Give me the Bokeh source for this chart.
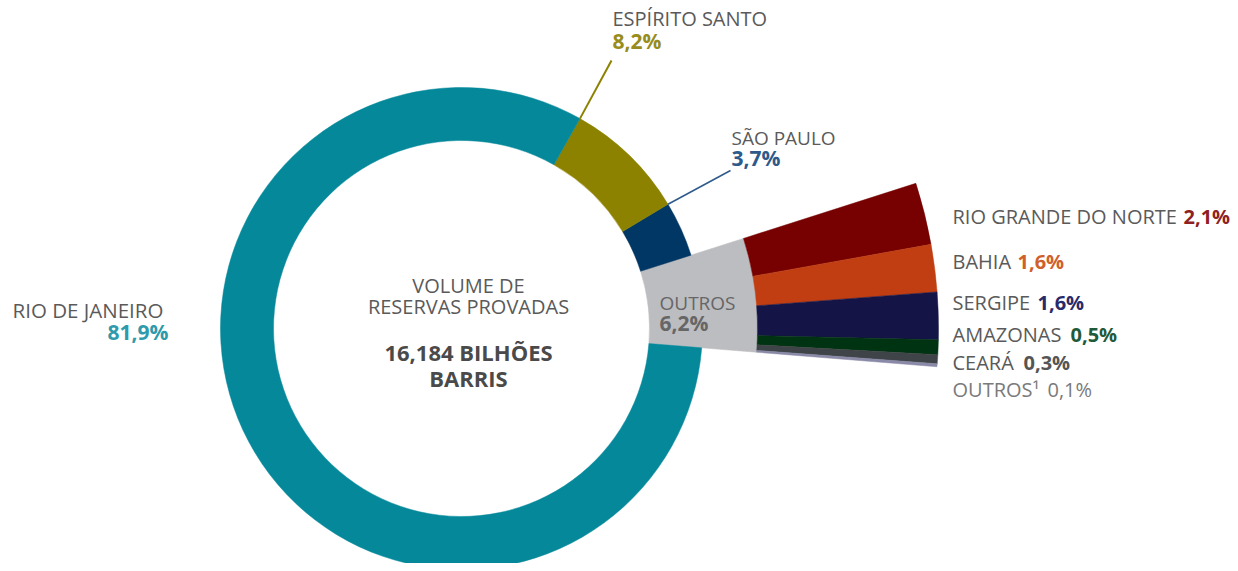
import numpy as np
from bokeh.plotting import figure
from bokeh.models import Range1d
from bokeh.core.properties import value
from bokeh.embed import file_html
from bokeh.resources import INLINE

# ---- data ----
main_names = ["RIO DE JANEIRO", "ESPÍRITO SANTO", "SÃO PAULO", "OUTROS"]
main_shares = [81.9, 8.2, 3.7, 6.2]
main_pct = ["81,9%", "8,2%", "3,7%", "6,2%"]
main_colors = ["#05889A", "#8C8200", "#003764", "#BCBDC1"]
main_pct_colors = ["#2E9AAB", "#978C1C", "#2D5A8A", "#666666"]

sub_names = ["RIO GRANDE DO NORTE", "BAHIA", "SERGIPE", "AMAZONAS", "CEARÁ", "OUTROS¹"]
sub_shares = [2.1, 1.6, 1.6, 0.5, 0.3, 0.1]
sub_pct = ["2,1%", "1,6%", "1,6%", "0,5%", "0,3%", "0,1%"]
sub_colors = ["#770000", "#C03E12", "#141446", "#003312", "#3E4447", "#8A8AA8"]
sub_pct_colors = ["#8E1F22", "#D0602A", "#2A2A6A", "#1F5A3A", "#555555", "#7A7A7A"]

center_lines = ["VOLUME DE", "RESERVAS PROVADAS", "16,184 BILHÕES", "BARRIS"]

# ---- layout helpers (page px -> data) ----
W, H = 1230, 563
def Y(yp):
    return 571 - yp

cx, cy = 461, Y(328)
r_in, r_out = 188, 241
r_ext, r_fan = 296, 477
start_deg = -4.6
deg_per = 3.6

p = figure(width=W, height=H, output_backend="svg", toolbar_location=None,
           x_range=Range1d(0, 1230), y_range=Range1d(8, 571), min_border=0,
           match_aspect=False)
p.axis.visible = False
p.grid.visible = False
p.outline_line_color = None
p.background_fill_color = "white"
p.border_fill_color = "white"

# main donut: counter-clockwise order OUTROS, SP, ES, RJ
order = [3, 2, 1, 0]
angles = {}
a = start_deg
for i in order:
    a0 = a
    a1 = a + main_shares[i] * deg_per
    angles[i] = (a0, a1)
    a = a1
for i in order:
    a0, a1 = angles[i]
    ro = r_ext if i == 3 else r_out
    p.annular_wedge(x=cx, y=cy, inner_radius=r_in, outer_radius=ro,
                    start_angle=np.radians(a0), end_angle=np.radians(a1),
                    fill_color=main_colors[i], line_color=main_colors[i], line_width=0.5)

# breakdown fan (clockwise from top of OUTROS)
top = angles[3][1]
for j, s in enumerate(sub_shares):
    a1 = top
    a0 = top - s * deg_per
    p.annular_wedge(x=cx, y=cy, inner_radius=r_ext, outer_radius=r_fan,
                    start_angle=np.radians(a0), end_angle=np.radians(a1),
                    fill_color=sub_colors[j], line_color=sub_colors[j], line_width=0.5)
    top = a0

FONT = value("Open Sans")
LBL = "#5A5A5A"

def txt(x, y, t, color=LBL, size="20px", bold=False, align="left"):
    p.text(x=[x], y=[Y(y)], text=[t], text_font=FONT, text_font_size=size,
           text_color=color, text_align=align, text_baseline="middle",
           text_font_style="bold" if bold else "normal")

# leader lines from wedge boundaries
es_b = np.radians(angles[1][1])
sp_b = np.radians(angles[2][1])
p.segment(x0=[cx + r_out * np.cos(es_b)], y0=[cy + r_out * np.sin(es_b)],
          x1=[611], y1=[Y(60)], line_color="#8C8200", line_width=2)
p.segment(x0=[cx + r_out * np.cos(sp_b)], y0=[cy + r_out * np.sin(sp_b)],
          x1=[730], y1=[Y(170)], line_color="#2D5A8A", line_width=1.5)

# main labels
txt(12, 309, main_names[0], size="20.5px")
txt(168, 331, main_pct[0], main_pct_colors[0], size="21px", bold=True, align="right")
txt(612, 18, main_names[1])
txt(612, 40, main_pct[1], main_pct_colors[1], size="21px", bold=True)
txt(731, 137, main_names[2], size="19px")
txt(731, 157, main_pct[2], main_pct_colors[2], size="21px", bold=True)
txt(659, 302, main_names[3], "#666666", size="19px")
txt(659, 322, main_pct[3], main_pct_colors[3], size="21px", bold=True)

# center
txt(468, 285, center_lines[0], align="center", size="20px")
txt(468, 306, center_lines[1], align="center", size="20px")
txt(468, 351, center_lines[2], "#4A4A4A", size="22px", bold=True, align="center")
txt(468, 377, center_lines[3], "#4A4A4A", size="22px", bold=True, align="center")

# breakdown labels
sub_y = [216, 261, 302, 334, 362, 389]
sub_px = [1183, 1017, 1037, 1070, 1023, 1047]
for j in range(len(sub_names)):
    last = j == len(sub_names) - 1
    txt(952, sub_y[j], sub_names[j], "#7A7A7A" if last else LBL)
    txt(sub_px[j], sub_y[j], sub_pct[j], sub_pct_colors[j], size="20px", bold=not last)

open("out.html", "w").write(file_html(p, INLINE))
